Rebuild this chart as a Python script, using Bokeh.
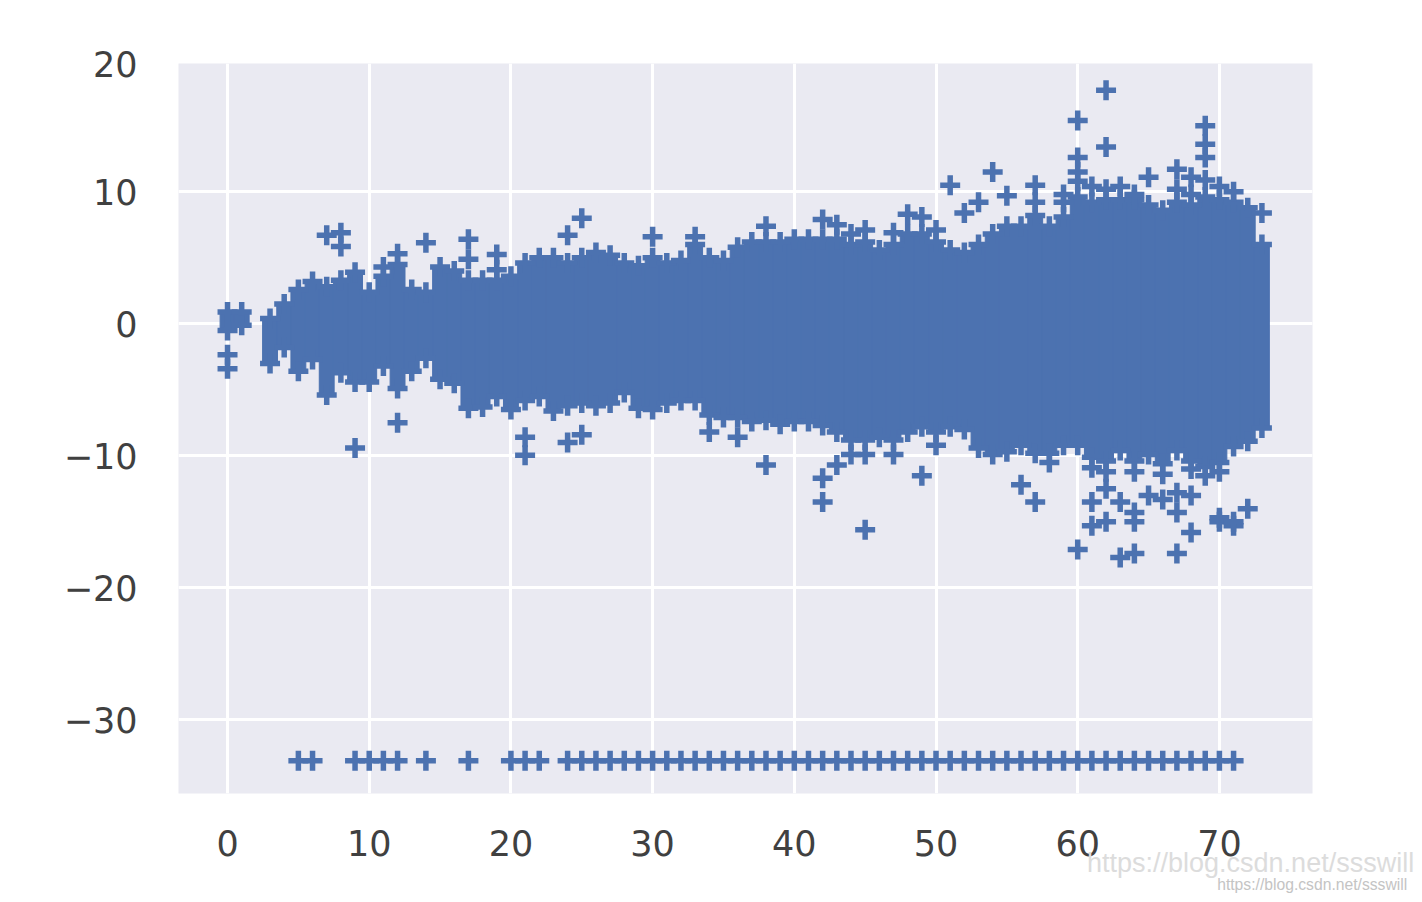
from bokeh.plotting import figure
from bokeh.models import LinearAxis, FixedTicker
from bokeh.embed import file_html
from bokeh.resources import INLINE

ages = [0, 1] + list(range(3, 74))
upper = [0.9, 0.9, 0.4, 1.5, 2.6, 3.2, 2.8, 3.3, 3.9, 2.4, 3.6, 4.5, 2.6, 2.4, 4.3, 4.0, 3.3, 3.3, 3.3, 3.6,
         4.6, 5.0, 5.0, 4.6, 5.0, 5.4, 5.2, 4.6, 4.4, 5.0, 4.6, 4.8, 6.0, 5.0, 4.8, 5.8, 6.2, 6.2, 6.2, 6.4,
         6.4, 6.4, 6.4, 6.0, 6.2, 5.6, 6.0, 6.8, 6.8, 6.2, 5.6, 5.4, 6.0, 6.8, 7.4, 7.4, 8.2, 7.4, 8.1, 9.6,
         9.2, 9.4, 9.4, 9.4, 9.0, 8.6, 9.2, 9.0, 9.6, 9.4, 9.2, 8.8, 6.0]
lower = [-0.5, -0.1, -3.0, -1.8, -3.6, -2.7, -5.4, -3.7, -4.4, -4.4, -3.2, -4.9, -3.6, -2.6, -4.2, -4.5, -6.4, -6.3, -5.5, -6.5,
         -5.8, -5.5, -6.6, -6.2, -6.0, -6.2, -6.0, -5.2, -6.4, -6.5, -6.0, -5.8, -5.8, -6.9, -7.1, -7.1, -7.4, -7.3, -7.6, -7.4,
         -7.4, -7.7, -8.2, -8.8, -8.8, -8.6, -8.8, -8.2, -7.8, -8.2, -7.8, -8.0, -9.4, -9.9, -9.7, -9.2, -9.8, -9.8, -9.2, -9.2,
         -10.1, -10.4, -9.6, -10.4, -9.9, -10.6, -9.6, -10.4, -10.8, -10.5, -9.3, -8.9, -7.9]

outlier_x = [0, 0, 7, 8, 8, 9, 11, 12, 12, 14, 17, 17, 19, 19, 21, 21, 24, 24, 25, 25, 30, 33, 38, 42, 42, 43, 45, 49,
             51, 52, 53, 54, 55, 57, 57, 59, 59, 60, 60, 60, 62, 62, 65, 67, 68, 69, 69, 69, 73,
             56, 57, 60, 61, 61, 62, 62, 63, 63, 64, 64, 64, 65, 66, 67, 67, 67, 68, 68, 70, 70, 71, 71, 72,
             60, 61, 62, 63, 64, 67, 68, 69, 70, 71,
             58, 61, 62, 64, 66, 68, 69, 70,
             34, 36, 44, 45, 47, 50,
             38, 42, 43, 44, 45, 47, 48, 49, 50]
outlier_y = [-2.35, -3.4, 6.7, 6.9, 5.85, -9.4, 4.3, 5.3, -7.5, 6.15, 6.4, 4.9, 5.25, 4.1, -8.6, -9.95, 6.7, -9.0, 8.0, -8.4, 6.6, 6.6, -10.7, -11.7, -13.5, -10.7, -15.6, -11.5,
             10.5, 8.4, 9.2, 11.5, 9.7, 10.5, 9.2, 9.8, 9.2, 15.4, 12.6, 11.5, 17.7, 13.4, 11.1, 11.7, 11.1, 15.0, 13.6, 12.6, 8.4,
             -12.2, -13.5, -17.1, -13.5, -15.3, -12.5, -15.0, -13.5, -17.7, -14.3, -15.0, -17.4, -13.0, -13.3, -12.8, -14.3, -17.4, -13.0, -15.8, -14.7, -15.0, -15.3, -15.0, -14.0,
             10.8, 10.4, 10.2, 10.4, 9.8, 10.2, 9.8, 10.9, 10.4, 10.0,
             -10.5, -10.9, -11.2, -11.2, -11.4, -11.0, -11.5, -11.2,
             -8.2, -8.6, -9.9, -9.9, -9.9, -9.2,
             7.4, 7.9, 7.5, 6.8, 7.1, 6.9, 8.3, 8.1, 7.1]

floor_x = [5, 6, 9, 10, 11, 12, 14, 17, 20, 21, 22] + list(range(24, 72))
floor_y = [-33.1] * len(floor_x)

x_ticks = [0, 10, 20, 30, 40, 50, 60, 70]
y_ticks = [-30, -20, -10, 0, 10, 19.7]
y_grid = [-30, -20, -10, 0, 10]
y_labels = {-30: "\u221230", -20: "\u221220", -10: "\u221210", 0: "0", 10: "10", 19.7: "20"}
watermark = "https://blog.csdn.net/ssswill"

BLUE = "#4C72B0"
BG = "#EAEAF2"
TEXT = "#404040"

p = figure(width=1414, height=895, x_range=(-3.46, 76.57), y_range=(-35.58, 19.72),
           output_backend="svg", toolbar_location=None,
           min_border_left=178, min_border_right=102, min_border_top=63, min_border_bottom=101)
p.background_fill_color = BG
p.outline_line_color = None
p.xgrid.grid_line_color = "white"
p.ygrid.grid_line_color = "white"
p.xgrid.grid_line_width = 3
p.ygrid.grid_line_width = 3
p.xgrid.ticker = FixedTicker(ticks=x_ticks)
p.ygrid.ticker = FixedTicker(ticks=y_grid)
p.xaxis.ticker = FixedTicker(ticks=x_ticks)
p.yaxis.ticker = FixedTicker(ticks=y_ticks)
p.yaxis.major_label_overrides = y_labels
for ax in (p.xaxis[0], p.yaxis[0]):
    ax.axis_line_color = None
    ax.major_tick_line_color = None
    ax.minor_tick_line_color = None
    ax.major_label_text_font = "DejaVu Sans"
    ax.major_label_text_font_size = "35px"
    ax.major_label_text_color = TEXT
p.xaxis.major_label_standoff = 30
p.yaxis.major_label_standoff = 35

for tick, size, colour, standoff in ((72.2, "27px", "#dcdcdc", -17), (76.55, "15.7px", "#c4c4c4", -11)):
    wm = LinearAxis(ticker=FixedTicker(ticks=[tick]), major_label_overrides={tick: watermark},
                    axis_line_color=None, major_tick_line_color=None, minor_tick_line_color=None,
                    major_label_text_font="Liberation Sans", major_label_text_font_size=size,
                    major_label_text_color=colour,
                    major_label_standoff=standoff)
    p.add_layout(wm, "below")

p.vbar(x=ages, bottom=lower, top=upper, width=1.05, fill_color=BLUE, line_color=BLUE, line_width=1)
cross = dict(marker="cross", size=20, line_color=BLUE, line_width=5.5, fill_color=None)
p.scatter(ages, upper, **cross)
p.scatter(ages, lower, **cross)
p.scatter(outlier_x, outlier_y, **cross)
p.scatter(floor_x, floor_y, **cross)

open("out.html", "w").write(file_html(p, INLINE))
